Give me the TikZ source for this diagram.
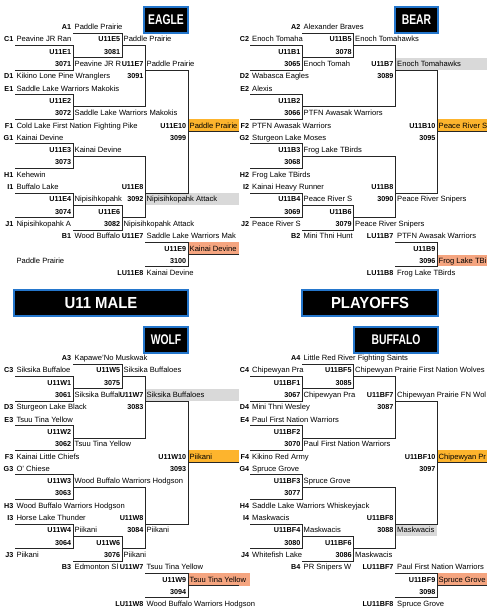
\documentclass[tikz,border=0pt]{standalone}
\usepackage{fontspec}
\setmainfont{Liberation Sans}
\definecolor{champ}{RGB}{253,180,45}
\definecolor{third}{RGB}{245,165,128}
\definecolor{loser}{RGB}{217,217,217}
\definecolor{titleblue}{RGB}{36,118,204}
\tikzset{
  gline/.style={line width=0.9pt,black!85},
  team/.style={anchor=mid west,inner sep=0pt,font=\fontsize{7.6}{9}\selectfont},
  tag/.style={anchor=mid east,inner sep=0pt,font=\fontsize{7.2}{9}\selectfont\bfseries},
  titlebox/.style={fill=black,draw=titleblue,line width=1.4pt,text=white,inner sep=0pt,minimum height=26pt},
  smalltitle/.style={titlebox,font=\fontsize{14}{14}\selectfont\bfseries},
  bigtitle/.style={titlebox,font=\fontsize{16}{16}\selectfont\bfseries},
}
% bracket lines: #1 seed column, #2..#5 the round columns
\newcommand\drawbracket[5]{%
  \foreach \rw in {1.5,5.5,9.5,13.5} \draw[gline] (#1,\rw) -| (#2,{\rw+2}) -- (#1,{\rw+2});
  \foreach \rw in {0.5,14.5} \draw[gline] (#2,\rw) -| (#3,{\rw+2}) -- (#2,{\rw+2});
  \draw[gline] (#3,1.5) -| (#4,6.5) -- (#2,6.5);
  \draw[gline] (#2,10.5) -| (#4,15.5) -- (#3,15.5);
  \draw[gline] (#4,3.5) -| (#5,13.5) -- (#4,13.5);
  \draw[gline] (#4,17.5) -| (#5,19.5) -- (#4,19.5);
}
\newcommand\tagcol[3]{\foreach \id/\rw/\nm in {#3} \node[tag] (#1-\id) at (#2,\rw) {\nm};}
\newcommand\teamcol[3]{\foreach \id/\rw/\nm in {#3} \node[team] (#1-\id) at (#2,\rw) {\nm};}

\begin{document}
\begin{tikzpicture}[x=1pt,y=-1pt]
\useasboundingbox (0,0) rectangle (487,612);

% titles
\node[smalltitle,minimum width=44pt] (eagle-title) at (166,20) {\scalebox{0.74}[1]{EAGLE}};
\node[smalltitle,minimum width=43pt] (bear-title) at (416.5,20) {\scalebox{0.74}[1]{BEAR}};
\node[bigtitle,minimum width=174pt] (male-title) at (101,303) {\scalebox{0.93}[1]{U11 MALE}};
\node[bigtitle,minimum width=136pt] (playoffs-title) at (370,303) {\scalebox{0.93}[1]{PLAYOFFS}};
\node[smalltitle,minimum width=44pt] (wolf-title) at (166,340) {\scalebox{0.74}[1]{WOLF}};
\node[smalltitle,minimum width=84pt] (buffalo-title) at (396,340) {\scalebox{0.74}[1]{BUFFALO}};

% EAGLE
\begin{scope}[yshift=-27pt,y=-12.3pt]
\fill[champ] (188,7.5) rectangle (239,8.5);
\fill[third] (188,17.5) rectangle (239,18.5);
\fill[loser] (145,13.5) rectangle (239,14.5);
\draw[gline] (188,8.5) -- (239,8.5) (188,18.5) -- (239,18.5);
\drawbracket{15}{73}{122}{145}{188}
\tagcol{eagle-ts}{13.5}{C1/1/C1,D1/4/D1,E1/5/E1,F1/8/F1,G1/9/G1,H1/12/H1,I1/13/I1,J1/16/J1}
\teamcol{eagle-ns}{16.3}{C1/1/Peavine JR Ran,D1/4/Kikino Lone Pine Wranglers,E1/5/Saddle Lake Warriors Makokis,F1/8/Cold Lake First Nation Fighting Pike,G1/9/Kainai Devine,H1/12/Kehewin,I1/13/Buffalo Lake,J1/16/Nipisihkopahk A,X1/19/Paddle Prairie}
\tagcol{eagle-ta}{71.3}{A1/0/A1,g1/2/U11E1,n1/3/3071,g2/6/U11E2,n2/7/3072,g3/10/U11E3,n3/11/3073,g4/14/U11E4,n4/15/3074,B1/17/B1}
\teamcol{eagle-na}{74.5}{A1/0/Paddle Prairie,w1/3/Peavine JR R,w2/7/Saddle Lake Warriors Makokis,w3/10/Kainai Devine,w4/14/Nipisihkopahk,B1/17/Wood Buffalo}
\tagcol{eagle-tb}{120.3}{g5/1/U11E5,n5/2/3081,g6/15/U11E6,n6/16/3082}
\teamcol{eagle-nb}{123.5}{w5/1/Paddle Prairie,w6/16/Nipisihkopahk Attack}
\tagcol{eagle-tc}{143.6}{g7/3/U11E7,n7/4/3091,g8/13/U11E8,n8/14/3092,l7/17/U11E7,l8/20/LU11E8}
\teamcol{eagle-nc}{146.5}{w7/3/Paddle Prairie,w8/14/Nipisihkopahk Attack,l7/17/Saddle Lake Warriors Mak,l8/20/Kainai Devine}
\tagcol{eagle-td}{186.3}{g10/8/U11E10,n10/9/3099,g9/18/U11E9,n9/19/3100}
\teamcol{eagle-nd}{189.5}{w10/8/Paddle Prairie,w9/18/Kainai Devine}
\end{scope}

% BEAR
\begin{scope}[yshift=-27pt,y=-12.3pt]
\fill[champ] (437,7.5) rectangle (487,8.5);
\fill[third] (437,18.55) rectangle (487,19.45);
\fill[loser] (395.3,2.5) rectangle (487,3.5);
\draw[gline] (437,8.5) -- (487,8.5);
\drawbracket{250.3}{302}{353.5}{395.3}{437}
\tagcol{bear-ts}{249.3}{C2/1/C2,D2/4/D2,E2/5/E2,F2/8/F2,G2/9/G2,H2/12/H2,I2/13/I2,J2/16/J2}
\teamcol{bear-ns}{252}{C2/1/Enoch Tomaha,D2/4/Wabasca Eagles,E2/5/Alexis,F2/8/PTFN Awasak Warriors,G2/9/Sturgeon Lake Moses,H2/12/Frog Lake TBirds,I2/13/Kainai Heavy Runner,J2/16/Peace River S}
\tagcol{bear-ta}{300.5}{A2/0/A2,g1/2/U11B1,n1/3/3065,g2/6/U11B2,n2/7/3066,g3/10/U11B3,n3/11/3068,g4/14/U11B4,n4/15/3069,B2/17/B2}
\teamcol{bear-na}{303.5}{A2/0/Alexander Braves,w1/3/Enoch Tomah,w2/7/PTFN Awasak Warriors,w3/10/Frog Lake TBirds,w4/14/Peace River S,B2/17/Mini Thni Hunt}
\tagcol{bear-tb}{351.8}{g5/1/U11B5,n5/2/3078,g6/15/U11B6,n6/16/3079}
\teamcol{bear-nb}{355}{w5/1/Enoch Tomahawks,w6/16/Peace River Snipers}
\tagcol{bear-tc}{393.6}{g7/3/U11B7,n7/4/3089,g8/13/U11B8,n8/14/3090,l7/17/LU11B7,l8/20/LU11B8}
\teamcol{bear-nc}{397}{w7/3/Enoch Tomahawks,w8/14/Peace River Snipers,l7/17/PTFN Awasak Warriors,l8/20/Frog Lake TBirds}
\tagcol{bear-td}{435.5}{g10/8/U11B10,n10/9/3095,g9/18/U11B9,n9/19/3096}
\teamcol{bear-nd}{438.5}{w10/8/Peace River S,w9/19/Frog Lake TBi}
\end{scope}

% WOLF
\begin{scope}[yshift=-358pt,y=-12.3pt]
\fill[champ] (188,7.5) rectangle (239,8.5);
\fill[third] (188,17.5) rectangle (250,18.5);
\fill[loser] (145,2.5) rectangle (239,3.5);
\draw[gline] (188,8.5) -- (239,8.5) (188,18.5) -- (239,18.5);
\drawbracket{15}{73}{122}{145}{188}
\tagcol{wolf-ts}{13.5}{C3/1/C3,D3/4/D3,E3/5/E3,F3/8/F3,G3/9/G3,H3/12/H3,I3/13/I3,J3/16/J3}
\teamcol{wolf-ns}{16.3}{C3/1/Siksika Buffaloe,D3/4/Sturgeon Lake Black,E3/5/Tsuu Tina Yellow,F3/8/Kainai Little Chiefs,G3/9/O' Chiese,H3/12/Wood Buffalo Warriors Hodgson,I3/13/Horse Lake Thunder,J3/16/Piikani}
\tagcol{wolf-ta}{71.3}{A3/0/A3,g1/2/U11W1,n1/3/3061,g2/6/U11W2,n2/7/3062,g3/10/U11W3,n3/11/3063,g4/14/U11W4,n4/15/3064,B3/17/B3}
\teamcol{wolf-na}{74.5}{A3/0/Kapawe'No Muskwak,w1/3/Siksika Buffal,w2/7/Tsuu Tina Yellow,w3/10/Wood Buffalo Warriors Hodgson,w4/14/Piikani,B3/17/Edmonton Sl}
\tagcol{wolf-tb}{120.3}{g5/1/U11W5,n5/2/3075,g6/15/U11W6,n6/16/3076}
\teamcol{wolf-nb}{123.5}{w5/1/Siksika Buffaloes,w6/16/Piikani}
\tagcol{wolf-tc}{143.6}{g7/3/U11W7,n7/4/3083,g8/13/U11W8,n8/14/3084,l7/17/U11W7,l8/20/LU11W8}
\teamcol{wolf-nc}{146.5}{w7/3/Siksika Buffaloes,w8/14/Piikani,l7/17/Tsuu Tina Yellow,l8/20/Wood Buffalo Warriors Hodgson}
\tagcol{wolf-td}{186.3}{g10/8/U11W10,n10/9/3093,g9/18/U11W9,n9/19/3094}
\teamcol{wolf-nd}{189.5}{w10/8/Piikani,w9/18/Tsuu Tina Yellow}
\end{scope}

% BUFFALO
\begin{scope}[yshift=-358pt,y=-12.3pt]
\fill[champ] (437,7.5) rectangle (487,8.5);
\fill[third] (437,17.5) rectangle (487,18.5);
\fill[loser] (395.3,13.5) rectangle (437,14.5);
\draw[gline] (437,8.5) -- (487,8.5) (437,18.5) -- (487,18.5);
\drawbracket{250.3}{302}{353.5}{395.3}{437}
\tagcol{buffalo-ts}{249.3}{C4/1/C4,D4/4/D4,E4/5/E4,F4/8/F4,G4/9/G4,H4/12/H4,I4/13/I4,J4/16/J4}
\teamcol{buffalo-ns}{252}{C4/1/Chipewyan Pra,D4/4/Mini Thni Wesley,E4/5/Paul First Nation Warriors,F4/8/Kikino Red Army,G4/9/Spruce Grove,H4/12/Saddle Lake Warriors Whiskeyjack,I4/13/Maskwacis,J4/16/Whitefish Lake}
\tagcol{buffalo-ta}{300.5}{A4/0/A4,g1/2/U11BF1,n1/3/3067,g2/6/U11BF2,n2/7/3070,g3/10/U11BF3,n3/11/3077,g4/14/U11BF4,n4/15/3080,B4/17/B4}
\teamcol{buffalo-na}{303.5}{A4/0/Little Red River Fighting Saints,w1/3/Chipewyan Pra,w2/7/Paul First Nation Warriors,w3/10/Spruce Grove,w4/14/Maskwacis,B4/17/PR Snipers W}
\tagcol{buffalo-tb}{351.8}{g5/1/U11BF5,n5/2/3085,g6/15/U11BF6,n6/16/3086}
\teamcol{buffalo-nb}{355}{w5/1/Chipewyan Prairie First Nation Wolves,w6/16/Maskwacis}
\tagcol{buffalo-tc}{393.6}{g7/3/U11BF7,n7/4/3087,g8/13/U11BF8,n8/14/3088,l7/17/LU11BF7,l8/20/LU11BF8}
\teamcol{buffalo-nc}{397}{w7/3/Chipewyan Prairie FN Wol,w8/14/Maskwacis,l7/17/Paul First Nation Warriors,l8/20/Spruce Grove}
\tagcol{buffalo-td}{435.5}{g10/8/U11BF10,n10/9/3097,g9/18/U11BF9,n9/19/3098}
\teamcol{buffalo-nd}{438.5}{w10/8/Chipewyan Pr,w9/18/Spruce Grove}
\end{scope}
\end{tikzpicture}
\end{document}
